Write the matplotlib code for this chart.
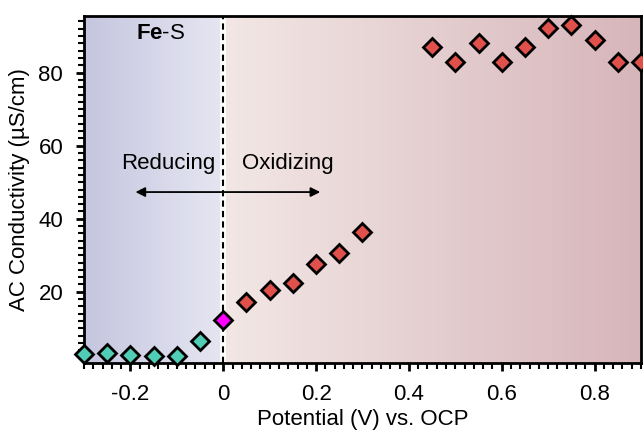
import numpy as np
import matplotlib
matplotlib.use('Agg')
import matplotlib.pyplot as plt
from matplotlib.ticker import MultipleLocator

plt.rcParams['font.family'] = ['Liberation Sans', 'DejaVu Sans']
plt.rcParams['mathtext.fontset'] = 'custom'
plt.rcParams['mathtext.bf'] = 'Liberation Sans:bold'
plt.rcParams['mathtext.rm'] = 'Liberation Sans'

# reducing side
red_x = [-0.3, -0.25, -0.2, -0.15, -0.1, -0.05]
red_y = [2.9, 3.3, 2.8, 2.4, 2.4, 6.4]
# open circuit point
ocp_x = [0.0]
ocp_y = [12.4]
# oxidizing side
ox_x = [0.05, 0.1, 0.15, 0.2, 0.25, 0.3, 0.45, 0.5, 0.55, 0.6, 0.65, 0.7, 0.75, 0.8, 0.85, 0.9]
ox_y = [17.1, 20.5, 22.5, 27.5, 30.5, 36.5, 86.9, 82.9, 88.0, 82.9, 86.9, 92.1, 93.0, 88.9, 82.9, 82.9]

xticks = [-0.2, 0, 0.2, 0.4, 0.6, 0.8]
xticklabels = ['-0.2', '0', '0.2', '0.4', '0.6', '0.8']
yticks = [20, 40, 60, 80]

fs = 16

fig = plt.figure(figsize=(6.43, 4.33), dpi=100)
ax = fig.add_axes([0.1306, 0.1617, 0.8663, 0.8013])
xmin, xmax, ymin, ymax = -0.3, 0.9, 0.5, 95.5

# background gradients
left = np.linspace([197, 198, 223], [230, 230, 242], 100)[None, :, :] / 255
right = np.linspace([242, 231, 229], [215, 182, 186], 100)[None, :, :] / 255
ax.imshow(left, extent=[xmin, 0, ymin, ymax], aspect='auto', zorder=0)
ax.imshow(right, extent=[0, xmax, ymin, ymax], aspect='auto', zorder=0)

ax.axvline(0, color='white', lw=4, zorder=1)
ax.axvline(0, color='black', lw=1.5, ls=(0, (3, 2)), zorder=2)

ax.plot(red_x, red_y, 'D', ms=9.5, mfc='#4fcdb5', mec='black', mew=2, clip_on=False, zorder=5)
ax.plot(ocp_x, ocp_y, 'D', ms=9.5, mfc='#ff00ff', mec='black', mew=2, clip_on=False, zorder=5)
ax.plot(ox_x, ox_y, 'D', ms=9.5, mfc='#e0514b', mec='black', mew=2, clip_on=False, zorder=5)

ax.annotate('', xy=(-0.195, 47.3), xytext=(0.215, 47.3),
            arrowprops=dict(arrowstyle='<|-|>', color='black', lw=1.3, mutation_scale=14), zorder=4)
ax.text(-0.118, 55.2, 'Reducing', ha='center', va='center', fontsize=fs)
ax.text(0.14, 55.2, 'Oxidizing', ha='center', va='center', fontsize=fs)
ax.text(-0.189, 90.6, r'$\mathbf{Fe}$-S', ha='left', va='center', fontsize=fs)

ax.set_xlim(xmin, xmax)
ax.set_ylim(ymin, ymax)
ax.set_xticks(xticks)
ax.set_xticklabels(xticklabels)
ax.set_yticks(yticks)
ax.xaxis.set_minor_locator(MultipleLocator(0.02))
ax.yaxis.set_minor_locator(MultipleLocator(2))
ax.tick_params(which='major', direction='out', length=6, width=2, labelsize=fs, pad=9)
ax.tick_params(which='minor', direction='out', length=4, width=1.5)
for s in ax.spines.values():
    s.set_linewidth(2)

ax.set_xlabel('Potential (V) vs. OCP', fontsize=fs, labelpad=3)
ax.set_ylabel('AC Conductivity (µS/cm)', fontsize=fs, labelpad=6)

fig.savefig('out.png', dpi=100)
